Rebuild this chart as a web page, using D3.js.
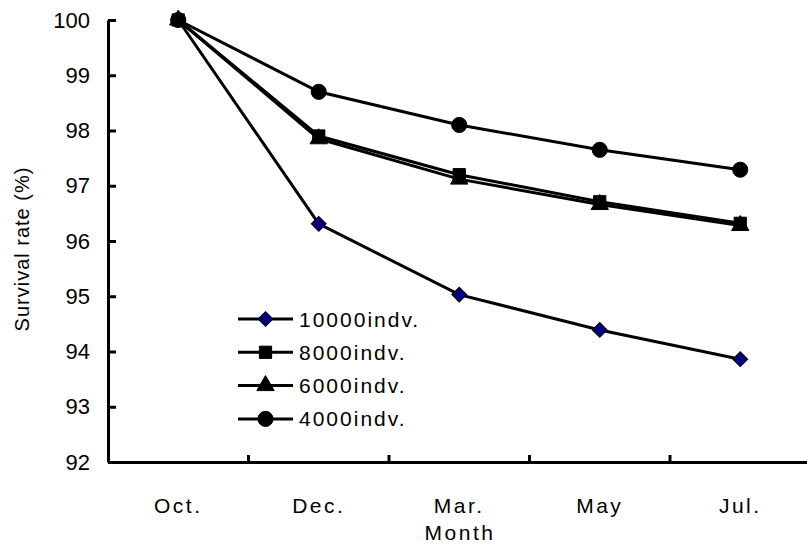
<!DOCTYPE html>
<html>
<head>
<meta charset="utf-8">
<script src="https://cdn.jsdelivr.net/npm/d3@7"></script>
<style>
  body { margin: 0; background: #fff; }
  svg { display: block; font-family: Arial, "Liberation Sans", sans-serif; }
</style>
</head>
<body>
<div id="chart"></div>
<script>
const months = ["Oct.", "Dec.", "Mar.", "May", "Jul."];
const seriesNames = ["10000indv.", "8000indv.", "6000indv.", "4000indv."];
const v10000 = [100, 96.31, 95.03, 94.39, 93.86];
const v8000 = [100, 97.90, 97.20, 96.71, 96.32];
const v6000 = [100, 97.85, 97.12, 96.66, 96.28];
const v4000 = [100, 98.70, 98.10, 97.65, 97.29];
const yTicks = [92, 93, 94, 95, 96, 97, 98, 99, 100];

const series = [
  { name: seriesNames[0], values: v10000, shape: d3.symbolSquare, rot: 45, size: 110, fill: "#000080" },
  { name: seriesNames[1], values: v8000, shape: d3.symbolSquare, rot: 0, size: 150, fill: "#000" },
  { name: seriesNames[2], values: v6000, shape: d3.symbolTriangle, rot: 0, size: 130, fill: "#000" },
  { name: seriesNames[3], values: v4000, shape: d3.symbolCircle, rot: 0, size: 180, fill: "#000" }
];

const W = 807, H = 550;
const svg = d3.select("#chart").append("svg")
  .attr("width", W).attr("height", H);

const x = d3.scaleBand().domain(months).range([108, 810.5]).padding(0);
const y = d3.scaleLinear().domain([92, 100]).range([462, 20]);

// y axis
const yAxis = svg.append("g")
  .attr("transform", "translate(108,0)")
  .call(d3.axisLeft(y).tickValues(yTicks).tickSizeInner(-8).tickSizeOuter(0).tickPadding(18).tickFormat(d3.format("d")));
yAxis.select(".domain").attr("stroke-width", 3);
yAxis.selectAll(".tick line").attr("stroke-width", 3);
yAxis.selectAll("text").attr("font-size", 22).attr("fill", "#000")
  .attr("font-family", "Arial, 'Liberation Sans', sans-serif");

// x axis
const xAxis = svg.append("g")
  .attr("transform", "translate(0,462)")
  .call(d3.axisBottom(x).tickSize(0).tickPadding(36));
xAxis.select(".domain").attr("stroke-width", 3);
xAxis.selectAll("text").attr("font-size", 21).attr("fill", "#000")
  .attr("letter-spacing", "2.5px")
  .attr("font-family", "Arial, 'Liberation Sans', sans-serif");
// boundary ticks between categories
xAxis.selectAll(".btick")
  .data(months.slice(1))
  .enter().append("line")
  .attr("class", "btick")
  .attr("x1", d => x(d)).attr("x2", d => x(d))
  .attr("y1", 0).attr("y2", -7)
  .attr("stroke", "#000").attr("stroke-width", 3);

// axis titles
svg.append("text")
  .attr("x", 460).attr("y", 540)
  .attr("text-anchor", "middle")
  .attr("font-size", 21).attr("letter-spacing", "2.5px")
  .text("Month");
svg.append("text")
  .attr("transform", "translate(29,249) rotate(-90)")
  .attr("text-anchor", "middle")
  .attr("font-size", 20).attr("letter-spacing", "1px")
  .text("Survival rate (%)");

const line = d3.line()
  .x((d, i) => x(months[i]) + x.bandwidth() / 2)
  .y(d => y(d));

series.forEach(s => {
  svg.append("path")
    .datum(s.values)
    .attr("fill", "none")
    .attr("stroke", "#000")
    .attr("stroke-width", 3)
    .attr("d", line);
});

series.forEach(s => {
  svg.selectAll(null)
    .data(s.values)
    .enter().append("path")
    .attr("transform", (d, i) => `translate(${x(months[i]) + x.bandwidth() / 2},${y(d)}) rotate(${s.rot})`)
    .attr("d", d3.symbol().type(s.shape).size(s.size))
    .attr("fill", s.fill)
    .attr("stroke", "#000")
    .attr("stroke-width", 1);
});

// legend
const legend = svg.append("g").attr("transform", "translate(238,319)");
series.forEach((s, i) => {
  const g = legend.append("g").attr("transform", `translate(0,${i * 33.3})`);
  g.append("line").attr("x1", 0).attr("x2", 55).attr("y1", 0).attr("y2", 0)
    .attr("stroke", "#000").attr("stroke-width", 3);
  g.append("path")
    .attr("transform", `translate(27.5,0) rotate(${s.rot})`)
    .attr("d", d3.symbol().type(s.shape).size(s.size))
    .attr("fill", s.fill).attr("stroke", "#000").attr("stroke-width", 1);
  g.append("text")
    .attr("x", 61).attr("y", 7.5)
    .attr("font-size", 21).attr("letter-spacing", "2px")
    .text(s.name);
});
</script>
</body>
</html>
